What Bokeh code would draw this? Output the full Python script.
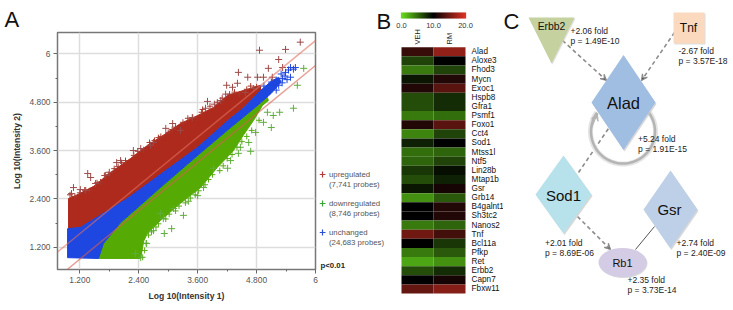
import numpy as np
from bokeh.embed import file_html
from bokeh.resources import INLINE
from bokeh.plotting import figure
from bokeh.layouts import row
from bokeh.models import Range1d, FixedTicker, Arrow, VeeHead, LinearColorMapper, ColumnDataSource, Title
from bokeh.core.properties import value

FONT = "Liberation Sans"

# ---------- A: scatter (cloud outlines and outlying probes)
up_x = [0.97,1.11,1.48,1.83,2.23,2.58,2.90,3.25,3.60,3.92,4.21,4.53,4.88,4.88,4.53,4.27,3.60,2.90,2.17,1.68,1.21,0.97]
up_y = [2.41,2.48,2.71,3.06,3.40,3.73,3.98,4.27,4.47,4.67,4.97,5.09,5.22,5.09,4.65,4.40,3.68,3.06,2.41,2.04,1.69,1.66]
un_x = [0.95,1.21,1.68,2.17,2.90,3.60,4.27,4.53,4.88,5.10,5.25,5.30,5.10,4.82,4.27,3.60,2.84,2.03,1.68,1.58,0.95]
un_y = [1.66,1.69,2.04,2.41,3.06,3.68,4.40,4.65,5.09,5.32,5.42,5.30,5.02,4.72,4.17,3.48,2.68,1.81,1.29,0.92,0.94]
dn_x = [1.58,1.68,2.03,2.84,3.60,4.27,4.82,5.02,5.04,4.92,4.74,4.53,4.33,4.00,3.66,3.25,2.84,2.58,2.50,2.44]
dn_y = [0.92,1.29,1.81,2.68,3.48,4.17,4.72,4.92,4.84,4.72,4.35,3.98,3.60,3.18,2.68,2.29,1.86,1.55,1.35,0.92]
up_out_x = [5.69,4.86,5.39,5.25,5.04,5.33,4.43,4.82,4.62,4.41,4.19,4.31,4.17,3.80,4.07,3.09,2.70,2.29,2.44,1.95,1.80,1.36,1.52,1.42,1.07,1.03,1.21,4.94,5.12,2.64,3.25,3.49,3.76,3.94,4.57,4.74,2.03,1.72,1.32,2.95]
up_out_y = [6.29,6.09,6.11,5.86,5.64,5.66,5.54,5.42,5.42,5.27,5.22,5.17,5.00,4.82,4.84,4.27,3.80,3.60,3.65,3.30,3.06,3.03,2.78,2.93,2.68,2.53,2.63,5.42,5.42,3.73,4.10,4.42,4.65,4.75,5.04,5.14,3.35,2.98,2.61,4.15]
up_edge_x = [1.0,1.1,1.2,1.3,1.4,1.55,1.62,1.7,1.78,1.9,1.98,2.05,2.13,2.3,2.38,2.5,2.62,2.72,2.8,2.85,3.0,3.08,3.15,3.3,3.4,3.5,3.68,3.7,3.85,4.0,4.1,4.25,4.35,4.45,4.6,4.68,4.8]
up_edge_y = [2.5,2.46,2.55,2.62,2.6,2.8,2.82,2.98,3.0,3.15,3.2,3.3,3.35,3.48,3.58,3.62,3.8,3.85,3.92,3.95,4.05,4.12,4.18,4.3,4.4,4.42,4.55,4.62,4.7,4.8,4.9,5.0,5.05,5.0,5.12,5.2,5.18]
dn_out_x = [5.76,5.63,5.55,5.27,5.14,5.10,4.94,4.78,4.64,4.68,4.43,4.27,4.21,3.92,3.41,3.31,3.07,2.92,2.70,2.56,2.44,2.33,5.02,3.72,3.60,3.11,2.90,4.47,2.84]
dn_out_y = [5.64,5.22,4.65,4.55,4.47,4.17,4.30,4.05,3.80,3.58,3.53,3.35,3.16,3.16,2.34,1.99,1.66,1.54,1.61,1.29,0.94,1.04,4.55,2.68,2.48,2.16,1.91,3.68,2.04]
dn_edge_x = [2.48,2.52,2.55,2.6,2.66,2.75,2.8,2.95,3.02,3.15,3.22,3.35,3.45,3.55,3.62,3.75,3.82,3.9,4.05,4.12,4.2,4.3,4.4,4.5,4.6,4.7,4.85]
dn_edge_y = [0.95,1.12,1.3,1.5,1.58,1.7,1.78,1.9,2.02,2.1,2.22,2.3,2.42,2.5,2.6,2.75,2.88,3.0,3.1,3.22,3.4,3.5,3.68,3.82,3.95,4.1,4.35]
un_out_x = [5.49,5.59,5.39,5.49,5.33,5.14,5.25,5.02,5.30,5.20,5.38,5.45,5.55,5.10,4.95,5.20,5.32,5.42]
un_out_y = [5.66,5.66,5.54,5.42,5.39,5.22,5.22,5.02,5.50,5.35,5.45,5.60,5.62,5.30,5.20,5.10,5.28,5.36]
fold_hi_x = [0.745,6.0]
fold_hi_y = [1.08,6.33]
fold_lo_x = [0.943,6.0]
fold_lo_y = [0.646,5.71]
ticks = [1.2,2.4,3.6,4.8,6.0]
minor = [1.8,3.0,4.2,5.4]
tick_labels = {1.2:"1.200",2.4:"2.400",3.6:"3.600",4.8:"4.800",6.0:"6"}
classes = ["upregulated","downregulated","unchanged"]
class_counts = ["(7,741 probes)","(8,746 probes)","(24,683 probes)"]
RED, GREEN, BLUE = "#ae2a1c", "#55aa04", "#1e46e0"

a = figure(width=319, height=310, output_backend="svg", toolbar_location=None, frame_align=False,
           x_range=Range1d(0.745,6.0), y_range=Range1d(0.646,6.53),
           min_border_left=57, min_border_right=4, min_border_top=32, min_border_bottom=41)
a.title = Title(text="A", text_font=FONT, text_font_size="22px", text_font_style="normal",
                text_color="#111111", align="left", offset=-53, standoff=2)
a.outline_line_color = "#777777"; a.outline_line_width = 1.5
for ax, lab in ((a.xaxis, "Log 10(Intensity 1)"), (a.yaxis, "Log 10(Intensity 2)")):
    ax.ticker = FixedTicker(ticks=ticks, minor_ticks=minor)
    ax.major_label_overrides = tick_labels
    ax.axis_label = lab
    ax.axis_label_text_font = FONT; ax.axis_label_text_font_size = "8.6px"
    ax.axis_label_text_font_style = "bold"; ax.axis_label_text_color = "#333333"
    ax.major_label_text_font = FONT; ax.major_label_text_font_size = "8.4px"
    ax.major_label_text_color = "#555555"
    ax.axis_line_color = None
    ax.major_tick_line_color = "#666666"; ax.minor_tick_line_color = "#666666"
    ax.major_tick_in = 0; ax.major_tick_out = 4; ax.minor_tick_in = 0; ax.minor_tick_out = 2
    ax.major_label_standoff = 3
a.xaxis.axis_label_standoff = 5
a.yaxis.axis_label_standoff = 5
a.yaxis.major_label_orientation = "horizontal"
a.grid.ticker = FixedTicker(ticks=ticks)
a.grid.grid_line_color = "#dddddd"; a.grid.grid_line_width = 1.5

a.patch(up_x, up_y, fill_color=RED, line_color=RED)
a.patch(dn_x, dn_y, fill_color=GREEN, line_color=GREEN)
a.patch(un_x, un_y, fill_color=BLUE, line_color=BLUE)
a.scatter(up_edge_x, up_edge_y, marker="cross", size=6, line_color="#a8382c", line_width=1)
a.scatter(dn_edge_x, dn_edge_y, marker="cross", size=6, line_color="#58ab14", line_width=1)
a.scatter(up_out_x, up_out_y, marker="cross", size=7, line_color="#9c4a4a", line_width=1)
a.scatter(dn_out_x, dn_out_y, marker="cross", size=7, line_color="#5fae3c", line_width=1)
a.scatter(un_out_x, un_out_y, marker="cross", size=7, line_color=BLUE, line_width=1)
a.line(fold_hi_x, fold_hi_y, line_color="#e0705f", line_alpha=0.6, line_width=1.5)
a.line(fold_lo_x, fold_lo_y, line_color="#d85f50", line_alpha=0.6, line_width=1.5)

# ---------- key of panel A, and the letter B
k = figure(width=76, height=310, output_backend="svg", toolbar_location=None, frame_align=False,
           x_range=Range1d(319,395), y_range=Range1d(310,0),
           min_border=0, x_axis_type=None, y_axis_type=None)
k.outline_line_color = None; k.grid.visible = False
key_y = [174,203,232]
k.scatter([322]*3, key_y, marker="cross", size=6, line_width=1.2, line_color=["#b33a3a","#3aa63a","#2a50d8"])
k.text([328.5]*3, key_y, text=classes, text_font=value(FONT), text_font_size="7.8px", text_baseline="middle", text_color="#555555")
k.text([328.5]*3, [y+9.5 for y in key_y], text=class_counts, text_font=value(FONT), text_font_size="7.8px", text_baseline="middle", text_color="#555555")
k.text([320],[264.5],text=["p<0.01"],text_font=value(FONT),text_font_size="7.8px",text_font_style="bold",text_baseline="middle",text_color="#222222")
k.text([376],[21],text=["B"],text_font=value(FONT),text_font_size="22px",text_baseline="middle",text_color="#111111")

# ---------- B: heat map
genes = ["Alad","Aloxe3","Fhod3","Mycn","Exoc1","Hspb8","Gfra1","Psmf1","Foxo1","Cct4","Sod1","Mtss1l","Ntf5","Lin28b","Mtap1b","Gsr","Grb14","B4galnt1","Sh3tc2","Nanos2","Tnf","Bcl11a","Pfkp","Ret","Erbb2","Capn7","Fbxw11"]
veh = [12.5,7.0,4.5,9.0,11.5,6.5,6.5,4.5,11.5,4.0,8.5,5.0,5.5,7.5,6.5,9.0,3.5,10.0,10.0,4.5,15.0,10.0,4.5,2.5,6.5,10.0,14.5]
rm  = [16.5,10.0,7.0,11.5,14.0,8.0,8.0,5.0,14.0,7.0,10.0,5.5,7.0,9.3,8.5,11.0,6.0,11.5,11.5,5.5,13.0,7.5,6.0,3.5,8.0,11.0,16.0]
conditions = ["VEH","RM"]
scale_labels = ["0.0","10.0","20.0"]
scale_values = [0.0,10.0,20.0]

g0 = np.array([104,222,28]); r1 = np.array([222,50,38])
pal = []
for t in np.linspace(0,1,256):
    col = g0*(1-2*t) if t < .5 else r1*(2*t-1)
    pal.append("#%02x%02x%02x" % tuple(int(v) for v in col))
cmap = LinearColorMapper(palette=pal, low=0, high=20)

b = figure(width=108, height=310, output_backend="svg", toolbar_location=None, frame_align=False,
           x_range=Range1d(-0.6875,2.6875), y_range=Range1d(28.36,-5.615),
           min_border=0, x_axis_type=None, y_axis_type=None)
b.outline_line_color = None; b.grid.visible = False
hm = ColumnDataSource(dict(x=[0]*len(genes)+[1]*len(genes), y=list(range(len(genes)))*2, v=veh+rm))
b.rect("x","y",width=1,height=1,source=hm,fill_color={"field":"v","transform":cmap},line_color=None)
sv = np.linspace(0,20,65)
b.rect(-0.5+sv/10, [-3.97]*65, width=0.04, height=0.66, fill_color=[pal[min(255,int(v/20*256))] for v in sv], line_color=None)
b.text([v/10-0.5 for v in scale_values], [-2.88]*3, text=scale_labels, text_font=value(FONT), text_font_size="7.5px",
       text_align="center", text_baseline="middle", text_color="#333333")
b.text([0,1], [-0.8,-0.8], text=conditions, angle=np.pi/2, text_font=value(FONT), text_font_size="7.5px",
       text_align="left", text_baseline="middle", text_color="#222222")
b.text([1.69]*len(genes), list(range(len(genes))), text=genes, text_font=value(FONT), text_font_size="8.2px",
       text_align="left", text_baseline="middle", text_color="#111111")

# ---------- C: network
c = figure(width=230, height=310, output_backend="svg", toolbar_location=None, frame_align=False,
           x_range=Range1d(503,733), y_range=Range1d(310,0),
           min_border=0, x_axis_type=None, y_axis_type=None)
c.outline_line_color = None; c.grid.visible = False

node_names = ["Erbb2","Tnf","Alad","Sod1","Gsr","Rb1"]
node_sizes = [10.4,12,16.5,15,15,11]
fold = ["+2.06 fold","-2.67 fold","+5.24 fold","+2.01 fold","+2.74 fold","+2.35 fold"]
pval = ["p = 1.49E-10","p = 3.57E-18","p = 1.91E-15","p = 8.69E-06","p = 2.40E-09","p = 3.73E-14"]
node_x = [551,688,623,563,669,622]
node_y = [26,27,102,194.5,209,262]
note_x = [570,678,637.5,544.5,676,627]
note_y = [30,50,138,242,242.5,279.5]

SH = "#c8c8c8"
t = np.radians(np.linspace(-36,216,80))
c.line(622.5+32.5*np.cos(t), 131+32.5*np.sin(t), line_color="#e4e4e4", line_width=5)
c.line(622.5+32*np.cos(t), 131+32*np.sin(t), line_color="#b4b4b4", line_width=2.5)

def diamond(cx, cy, hw, hh, col):
    c.patch([cx-hw+1, cx+1, cx+hw+1, cx+1], [cy+1.5, cy-hh+1.5, cy+1.5, cy+hh+1.5], fill_color=SH, line_color=None, fill_alpha=.7)
    c.patch([cx-hw, cx, cx+hw, cx], [cy, cy-hh, cy, cy+hh], fill_color=col, line_color=None)

c.patch([529,575,552],[18,18,64], fill_color=SH, line_color=None, fill_alpha=.6)
c.patch([528,574,551],[17,17,63], fill_color="#c6d1a0", line_color=None)
c.quad(left=[674], right=[705], top=[13], bottom=[44], fill_color=SH, line_color=None, fill_alpha=.6)
c.quad(left=[673], right=[704], top=[12], bottom=[43], fill_color="#fad9be", line_color=None)

def dashed(x0,y0,x1,y1,head=True):
    c.add_layout(Arrow(x_start=x0,y_start=y0,x_end=x1,y_end=y1,line_color="#8c8c8c",line_width=1.6,line_dash="4 3",
                       end=VeeHead(size=6,line_color="#8c8c8c",line_width=1.2) if head else None, level="underlay"))
dashed(562,40,606,80)
dashed(674,32,641,80)
dashed(578,172,608,128,False)
dashed(577,216,610,249)
c.line([654,635],[226,249], line_color="#555555", line_width=1)
c.add_layout(Arrow(x_start=590,y_start=130,x_end=597,y_end=113,line_color="#b4b4b4",line_width=1,
                   end=VeeHead(size=7,line_color="#b4b4b4",fill_color="#b4b4b4")))

diamond(623,102,32,47.5,"#a0bee1")
diamond(563,194,28,39,"#b7e1eb")
diamond(670,209,27,39,"#bed0e8")
c.ellipse([623],[263],width=48,height=29,fill_color=SH,line_color=None,fill_alpha=.7)
c.ellipse([622],[262],width=48,height=29,fill_color="#d4cce4",line_color=None)

for nm,sz,x,y in zip(node_names,node_sizes,node_x,node_y):
    c.text([x],[y],text=[nm],text_font=value(FONT),text_font_size=f"{sz}px",text_align="center",text_baseline="middle",text_color="#111111")
c.text(note_x,note_y,text=fold,text_font=value(FONT),text_font_size="8.5px",text_baseline="middle",text_color="#222222")
c.text(note_x,[y+10 for y in note_y],text=pval,text_font=value(FONT),text_font_size="8.5px",text_baseline="middle",text_color="#222222")
c.text([503],[21],text=["C"],text_font=value(FONT),text_font_size="22px",text_baseline="middle",text_color="#111111")

page = row(a,k,b,c,spacing=0)
open("out.html","w").write(file_html(page,INLINE))
